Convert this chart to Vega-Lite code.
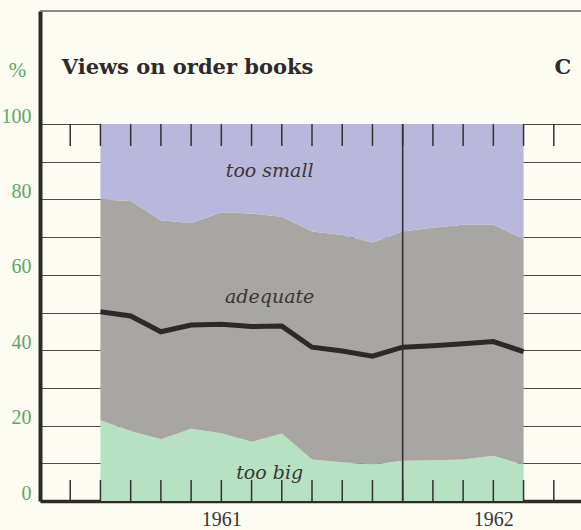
{
  "$schema": "https://vega.github.io/schema/vega-lite/v6.json",
  "width": 541,
  "height": 490,
  "autosize": {"type": "none"},
  "padding": {"left": 40, "top": 11, "right": 0, "bottom": 29},
  "background": "#fcfcf3",
  "datasets": {
    "survey": [
      {"month": 2, "too_big": 21.4, "too_big_or_adequate": 80.0, "index": 50.2},
      {"month": 3, "too_big": 18.6, "too_big_or_adequate": 79.6, "index": 49.1},
      {"month": 4, "too_big": 16.4, "too_big_or_adequate": 74.5, "index": 44.9},
      {"month": 5, "too_big": 19.2, "too_big_or_adequate": 73.7, "index": 46.7},
      {"month": 6, "too_big": 18.0, "too_big_or_adequate": 76.6, "index": 46.9},
      {"month": 7, "too_big": 15.7, "too_big_or_adequate": 76.3, "index": 46.3},
      {"month": 8, "too_big": 17.9, "too_big_or_adequate": 75.4, "index": 46.4},
      {"month": 9, "too_big": 11.0, "too_big_or_adequate": 71.5, "index": 40.8},
      {"month": 10, "too_big": 10.3, "too_big_or_adequate": 70.6, "index": 39.8},
      {"month": 11, "too_big": 9.7, "too_big_or_adequate": 68.6, "index": 38.4},
      {"month": 12, "too_big": 10.7, "too_big_or_adequate": 71.5, "index": 40.8},
      {"month": 13, "too_big": 10.8, "too_big_or_adequate": 72.5, "index": 41.2},
      {"month": 14, "too_big": 11.0, "too_big_or_adequate": 73.3, "index": 41.7},
      {"month": 15, "too_big": 12.0, "too_big_or_adequate": 73.3, "index": 42.3},
      {"month": 16, "too_big": 9.6, "too_big_or_adequate": 69.5, "index": 39.6}
    ],
    "months": [
      {"month": 1}, {"month": 2}, {"month": 3}, {"month": 4}, {"month": 5}, {"month": 6},
      {"month": 7}, {"month": 8}, {"month": 9}, {"month": 10}, {"month": 11}, {"month": 12},
      {"month": 13}, {"month": 14}, {"month": 15}, {"month": 16}, {"month": 17}
    ],
    "one": [{}]
  },
  "config": {
    "view": {"stroke": null},
    "axisY": {
      "grid": true,
      "gridColor": "#4d4a4a",
      "gridWidth": 1.2,
      "domain": true,
      "domainColor": "#2d2a2a",
      "domainWidth": 4,
      "ticks": false,
      "labelColor": "#5fa569",
      "labelFont": "Liberation Serif",
      "labelFontSize": 20,
      "labelPadding": 9,
      "labelBaseline": "alphabetic",
      "labelOffset": -2,
      "labelOverlap": false,
      "zindex": 1
    },
    "axisX": {
      "grid": false,
      "ticks": false,
      "domain": true,
      "domainColor": "#2d2a2a",
      "domainWidth": 3.5,
      "labelColor": "#3a3535",
      "labelFont": "Liberation Serif",
      "labelFontSize": 20,
      "labelPadding": 8,
      "labelOverlap": false,
      "labelFlush": false,
      "zindex": 1
    }
  },
  "layer": [
    {
      "data": {"name": "survey"},
      "mark": {"type": "area", "color": "#b6e1c2"},
      "encoding": {
        "x": {
          "field": "month", "type": "quantitative",
          "scale": {"domain": [0, 17.9], "nice": false, "zero": false},
          "axis": {"title": null, "values": [6, 15], "labelExpr": "datum.value == 6 ? '1961' : '1962'"}
        },
        "y": {
          "field": "too_big", "type": "quantitative",
          "scale": {"domain": [0, 130], "nice": false},
          "axis": {
            "values": [0, 10, 20, 30, 40, 50, 60, 70, 80, 90, 100],
            "labelExpr": "datum.value % 20 == 0 ? datum.label : ''",
            "title": "%", "titleAngle": 0, "titleColor": "#5fa569",
            "titleFont": "Liberation Serif", "titleFontWeight": "normal", "titleFontSize": 21,
            "titleX": -23, "titleY": 59, "titleAlign": "center", "titleBaseline": "middle"
          }
        },
        "y2": {"datum": 0}
      }
    },
    {
      "data": {"name": "survey"},
      "mark": {"type": "area", "color": "#a7a6a3"},
      "encoding": {
        "x": {"field": "month", "type": "quantitative"},
        "y": {"field": "too_big_or_adequate", "type": "quantitative"},
        "y2": {"field": "too_big"}
      }
    },
    {
      "data": {"name": "survey"},
      "mark": {"type": "area", "color": "#bab7dc"},
      "encoding": {
        "x": {"field": "month", "type": "quantitative"},
        "y": {"field": "too_big_or_adequate", "type": "quantitative"},
        "y2": {"datum": 100}
      }
    },
    {
      "data": {"name": "months"},
      "mark": {"type": "rule", "color": "#333030", "strokeWidth": 1.5},
      "encoding": {
        "x": {"field": "month", "type": "quantitative"},
        "y": {"datum": 0},
        "y2": {"datum": 5.6}
      }
    },
    {
      "data": {"name": "months"},
      "mark": {"type": "rule", "color": "#333030", "strokeWidth": 1.5},
      "encoding": {
        "x": {"field": "month", "type": "quantitative"},
        "y": {"datum": 100},
        "y2": {"datum": 94.2}
      }
    },
    {
      "data": {"name": "one"},
      "mark": {"type": "rule", "color": "#333030", "strokeWidth": 1.6},
      "encoding": {
        "x": {"datum": 12},
        "y": {"datum": 0},
        "y2": {"datum": 100}
      }
    },
    {
      "data": {"name": "one"},
      "mark": {"type": "rule", "color": "#6a6666", "strokeWidth": 1.5},
      "encoding": {
        "x": {"datum": 0},
        "x2": {"datum": 17.9},
        "y": {"datum": 130}
      }
    },
    {
      "data": {"name": "survey"},
      "mark": {"type": "line", "color": "#2e2829", "strokeWidth": 5, "strokeJoin": "miter"},
      "encoding": {
        "x": {"field": "month", "type": "quantitative"},
        "y": {"field": "index", "type": "quantitative"}
      }
    },
    {
      "data": {"name": "one"},
      "mark": {"type": "text", "font": "DejaVu Serif", "fontSize": 19, "fontStyle": "italic", "color": "#3a3636", "align": "center", "baseline": "middle"},
      "encoding": {"x": {"datum": 7.6}, "y": {"datum": 87.6}, "text": {"value": "too small"}}
    },
    {
      "data": {"name": "one"},
      "mark": {"type": "text", "font": "DejaVu Serif", "fontSize": 19, "fontStyle": "italic", "color": "#3a3636", "align": "center", "baseline": "middle"},
      "encoding": {"x": {"datum": 7.6}, "y": {"datum": 54.0}, "text": {"value": "adequate"}}
    },
    {
      "data": {"name": "one"},
      "mark": {"type": "text", "font": "DejaVu Serif", "fontSize": 19, "fontStyle": "italic", "color": "#3a3636", "align": "center", "baseline": "middle"},
      "encoding": {"x": {"datum": 7.6}, "y": {"datum": 7.5}, "text": {"value": "too big"}}
    },
    {
      "data": {"name": "one"},
      "mark": {"type": "text", "font": "DejaVu Serif", "fontSize": 21, "fontWeight": "bold", "color": "#2e2a2a", "align": "left", "baseline": "middle"},
      "encoding": {"x": {"datum": 0.72}, "y": {"datum": 115}, "text": {"value": "Views on order books"}}
    },
    {
      "data": {"name": "one"},
      "mark": {"type": "text", "font": "DejaVu Serif", "fontSize": 21, "fontWeight": "bold", "color": "#2e2a2a", "align": "center", "baseline": "middle"},
      "encoding": {"x": {"datum": 17.3}, "y": {"datum": 115}, "text": {"value": "C"}}
    }
  ]
}
